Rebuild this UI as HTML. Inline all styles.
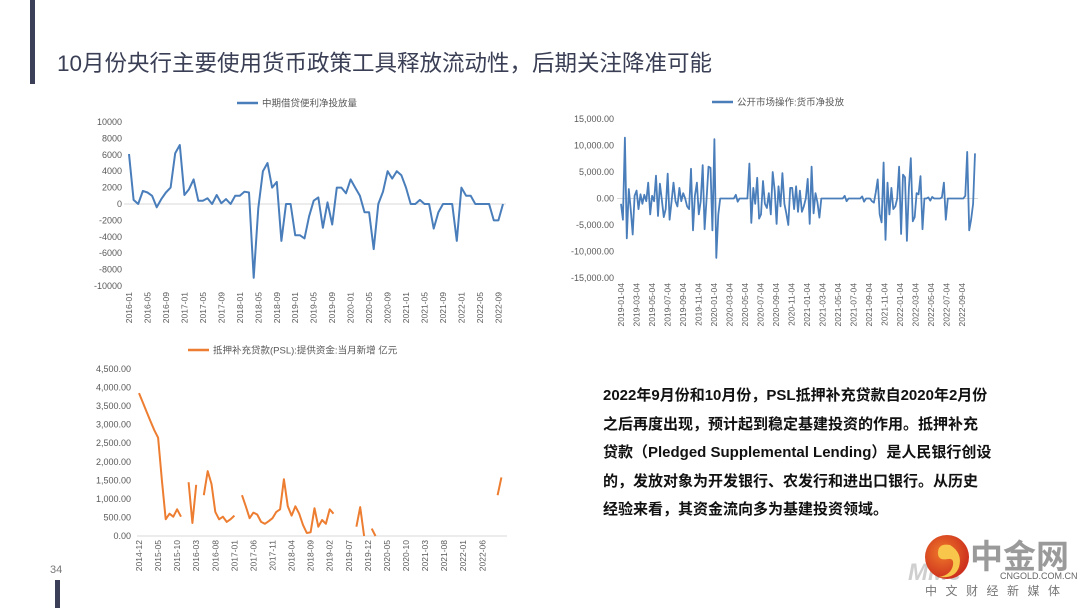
<!DOCTYPE html>
<html><head><meta charset="utf-8">
<style>
html,body{margin:0;padding:0;background:#fff;}
body{width:1080px;height:608px;overflow:hidden;position:relative;font-family:"Liberation Sans","Noto Sans CJK SC",sans-serif;}
svg text{font-family:"Liberation Sans","Noto Sans CJK SC",sans-serif;}
#note{position:absolute;left:603px;top:382px;width:420px;font-size:15px;font-weight:bold;line-height:28.5px;color:#111;white-space:nowrap;}
</style></head>
<body>
<svg id="s" width="1080" height="608" viewBox="0 0 1080 608" xmlns="http://www.w3.org/2000/svg">
 <rect x="30" y="0" width="5" height="84" fill="#3b3f58"/>
 <text x="57" y="71" font-size="22.5" fill="#3a3f55">10月份央行主要使用货币政策工具释放流动性，后期关注降准可能</text>
 <text x="50" y="573" font-size="11" fill="#777">34</text>
 <rect x="55" y="580" width="5" height="28" fill="#3b3f58"/>
 <g id="c1"></g><g id="c2"></g><g id="c3"></g>
 <g>
  <defs><radialGradient id="lg" cx="0.4" cy="0.4" r="0.7"><stop offset="0" stop-color="#f07a2a"/><stop offset="1" stop-color="#c8261c"/></radialGradient></defs>
  <text x="908" y="580" font-size="24" font-style="italic" font-weight="bold" fill="#cfcfcf">MMe</text>
  <circle cx="947" cy="557" r="22" fill="url(#lg)"/>
  <path d="M950 545 q-12 -2 -12 8 q0 8 10 6 q6 -1 5 6 q-2 10 -14 12 q16 2 20 -10 q4 -14 -9 -22z" fill="#f7c64a"/>
  <text x="970" y="568" font-size="33" font-weight="bold" fill="#9a9a9a">中金网</text>
  <text x="1000" y="579" font-size="9" fill="#666">CNGOLD.COM.CN</text>
  <text x="925" y="595" font-size="12" fill="#777" letter-spacing="8.5">中文财经新媒体</text>
 </g>
</svg>
<div id="note">2022年9月份和10月份，PSL抵押补充贷款自2020年2月份<br>之后再度出现，预计起到稳定基建投资的作用。抵押补充<br>贷款（Pledged Supplemental Lending）是人民银行创设<br>的，发放对象为开发银行、农发行和进出口银行。从历史<br>经验来看，其资金流向多为基建投资领域。</div>
<script>
const mlfValues=[6100,500,0,1600,1400,1000,-400,600,1400,2000,6200,7200,
1100,1800,3000,400,400,700,0,1100,100,600,0,1000,
1000,1500,1400,-9000,-500,4000,5000,2000,2700,-4500,0,0,
-3800,-3800,-4200,-1500,400,800,-2900,200,-2500,2000,2000,1300,
3000,2000,1000,-1000,-1000,-5500,0,1500,4000,3100,4000,3500,
2000,0,0,500,0,0,-3000,-1000,0,0,0,-4500,
2000,1000,1000,0,0,0,0,-2000,-2000,0];
const mlfTicks=[10000,8000,6000,4000,2000,0,-2000,-4000,-6000,-8000,-10000];
const omoValues=[-1000,-4000,11500,-7500,1800,-2000,-6800,500,
1500,-2000,800,-1000,700,-500,3000,-3000,
500,-500,4300,-3300,2800,-200,-3500,-2000,
4700,-4000,-500,3000,-500,-1500,2000,-500,
1000,0,-1500,-2000,5600,-6000,500,3000,
-3000,-500,6300,-5800,0,6000,5800,-6000,
11200,-11200,-3000,0,0,0,0,0,
0,0,0,700,-600,0,0,0,0,
0,6600,-4600,2000,-1000,3900,-3800,-3000,
3300,-1000,-1800,1000,-3000,5000,1500,-4800,
2300,-1500,4800,-1000,-2800,-5000,2000,2000,
-2000,2300,-2500,1500,-2500,-1500,0,3700,
-4800,6000,-2800,1000,-800,-3600,0,0,
0,0,0,0,0,0,0,0,0,0,500,-500,0,0,0,0,0,0,0,400,-600,0,0,0,
-500,-800,1200,3600,-3000,-4500,6800,-7800,
3000,-3000,2000,-2000,-1500,0,6000,-6700,
4500,4000,-8000,2000,7600,-4300,-3500,1000,
800,4200,-5800,0,0,200,-400,300,
0,0,0,0,200,3000,-4000,0,
0,0,0,0,0,0,0,0,
500,8800,-6000,-4000,-1000,8500];
const omoTicks=[15000,10000,5000,0,-5000,-10000,-15000];
const omoLabels=["2019-01-04","2019-03-04","2019-05-04","2019-07-04","2019-09-04","2019-11-04","2020-01-04","2020-03-04","2020-05-04","2020-07-04","2020-09-04","2020-11-04","2021-01-04","2021-03-04","2021-05-04","2021-07-04","2021-09-04","2021-11-04","2022-01-04","2022-03-04","2022-05-04","2022-07-04","2022-09-04"];
const pslValues=[3850,3600,3350,3100,2850,2650,1500,450,600,520,720,520,null,
1450,350,1380,null,1100,1750,1400,650,450,520,380,450,
550,null,1100,800,480,630,580,380,330,400,480,650,
720,1530,800,550,800,600,300,80,100,750,250,430,
330,720,600,null,null,null,null,null,250,780,0,null,
200,0,null,null,null,null,null,null,null,null,null,null,
null,null,null,null,null,null,null,null,null,null,null,null,
null,null,null,null,null,null,null,null,null,1100,1580];
const pslTicks=[4500,4000,3500,3000,2500,2000,1500,1000,500,0];

const NS="http://www.w3.org/2000/svg";
function mk(p,t,a){const e=document.createElementNS(NS,t);for(const k in a)e.setAttribute(k,a[k]);p.appendChild(e);return e;}
function fmt2(v){return v.toLocaleString('en-US',{minimumFractionDigits:2,maximumFractionDigits:2});}
function ym(y0,m0,i,step){let m=m0-1+i*step;return (y0+Math.floor(m/12))+"-"+String(m%12+1).padStart(2,'0');}

function chart(g,o){
 const ys=v=>o.y0+(o.max-v)/(o.max-o.min)*(o.y1-o.y0);
 const xs=i=>o.x0+i*(o.x1-o.x0)/(o.n-1);
 const ax=mk(g,'line',{x1:o.axL,x2:o.axR,y1:ys(0),y2:ys(0),stroke:'#d9d9d9','stroke-width':1});
 
 
 o.ticks.forEach(t=>{
  const e=mk(g,'text',{x:o.lx,y:ys(t)+3,'font-size':9,fill:'#595959','text-anchor':'end'});
  e.textContent=o.tf(t);
  
  
 });
 o.xlabels.forEach((l,k)=>{
  const x=o.xlpos(k,xs);
  const e=mk(g,'text',{transform:`translate(${x+3},${o.ly}) rotate(-90)`,'font-size':8.5,fill:'#595959','text-anchor':'end'});
  e.textContent=l;
  
  
 });
 let d='',pen=false;
 o.values.forEach((v,i)=>{
  if(v===null){pen=false;return;}
  d+=(pen?'L':'M')+xs(i).toFixed(1)+' '+ys(v).toFixed(1)+' ';pen=true;
 });
 const p=mk(g,'path',{d:d,fill:'none',stroke:o.color,'stroke-width':o.sw,'stroke-linejoin':'round'});
 
 
 const lg=mk(g,'line',{x1:o.legX,x2:o.legX+21,y1:o.legY,y2:o.legY,stroke:o.color,'stroke-width':2.5});
 
 
 const lt=mk(g,'text',{x:o.legX+25,y:o.legY+3.5,'font-size':9.5,fill:'#595959'});
 lt.textContent=o.legend;
 
 
}
const c1=document.getElementById('c1');


const mlfLabels=[];for(let i=0;i<mlfValues.length;i+=4)mlfLabels.push(ym(2016,1,i,1));
chart(c1,{values:mlfValues,n:mlfValues.length,x0:129,x1:503,y0:122,y1:286,max:10000,min:-10000,axL:124,axR:506,
 ticks:mlfTicks,tf:t=>String(t),lx:122,xlabels:mlfLabels,xlpos:(k,xs)=>xs(k*4),ly:292,color:'#4a7ebb',sw:2,
 legX:237,legY:103,legend:'中期借贷便利净投放量'});
const c2=document.getElementById('c2');


chart(c2,{values:omoValues,n:omoValues.length,x0:621,x1:975,y0:119,y1:278,max:15000,min:-15000,axL:617,axR:978,
 ticks:omoTicks,tf:fmt2,lx:614,xlabels:omoLabels,xlpos:(k)=>621+k*15.5,ly:283,color:'#4a7ebb',sw:1.8,
 legX:712,legY:102,legend:'公开市场操作:货币净投放'});
const c3=document.getElementById('c3');


const pslLabels=[];for(let i=0;i<=90;i+=5)pslLabels.push(ym(2014,12,i,1));
chart(c3,{values:pslValues,n:pslValues.length,x0:139,x1:139+94*3.855,y0:369,y1:536,max:4500,min:0,axL:137,axR:507,
 ticks:pslTicks,tf:fmt2,lx:131,xlabels:pslLabels,xlpos:(k,xs)=>xs(k*5),ly:540,color:'#ed7d31',sw:2,
 legX:188,legY:350,legend:'抵押补充贷款(PSL):提供资金:当月新增 亿元'});
</script>
</body></html>
